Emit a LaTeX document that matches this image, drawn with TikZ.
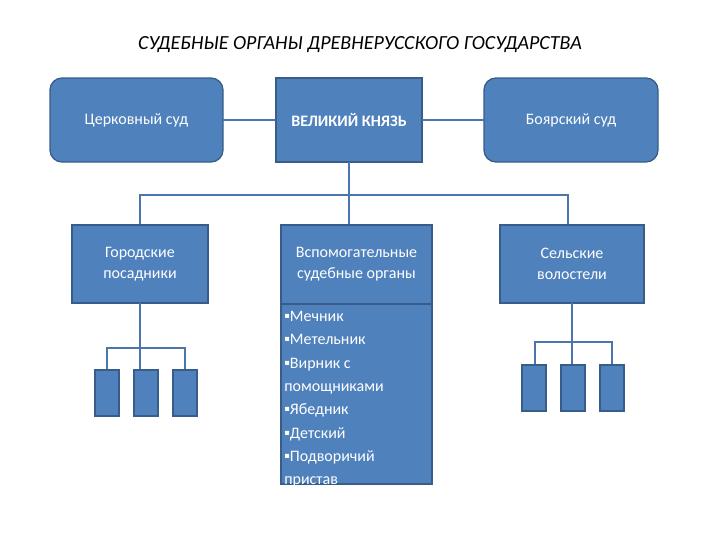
\documentclass[tikz,border=0pt]{standalone}
\usepackage{fontspec}
\setmainfont{Carlito}
\definecolor{bfill}{HTML}{4F81BD}
\definecolor{bdraw}{HTML}{385D8A}
\definecolor{lcol}{HTML}{4A76AD}
\begin{document}
\begin{tikzpicture}[x=0.75pt,y=-0.75pt,
  box/.style={fill=bfill,draw=bdraw,line width=1pt,text=white,align=center,font=\fontsize{12}{14}\selectfont},
  lnk/.style={draw=lcol,line width=0.8pt}]
\useasboundingbox (0,0) rectangle (720,540);
\node[font=\itshape\fontsize{15}{18}\selectfont] (t) at (360,45) {СУДЕБНЫЕ ОРГАНЫ ДРЕВНЕРУССКОГО ГОСУДАРСТВА};
\draw[box,rounded corners=9pt] (50,78) rectangle (223,162);
\node[text=white,font=\fontsize{12}{14}\selectfont] (c) at (136.5,120) {Церковный суд};
\draw[box] (276,78) rectangle (422,162);
\node[text=white,font=\bfseries\fontsize{12}{14}\selectfont] (k) at (349,120) {ВЕЛИКИЙ КНЯЗЬ};
\draw[box,rounded corners=9pt] (484,78) rectangle (658,162);
\node[text=white,font=\fontsize{12}{14}\selectfont] (b) at (571,120) {Боярский суд};
\coordinate (cr) at (223,120); \coordinate (kl) at (276,120);
\coordinate (kr) at (422,120); \coordinate (bl) at (484,120);
\draw[lnk] (cr) -- (kl); \draw[lnk] (kr) -- (bl);
\coordinate (kb) at (349,162);
\draw[lnk] (kb) -- (349,195); \draw[lnk] (140,225) -- (140,195) -- (568,195) -- (568,225);
\draw[lnk] (349,195) -- (349,225);
\draw[box] (72,225) rectangle (208,303);
\node[text=white,align=center,font=\fontsize{12}{16}\selectfont] (g) at (140,264) {Городские\\посадники};
\draw[box] (281,225) rectangle (432,304);
\node[text=white,align=center,font=\fontsize{12}{16}\selectfont] (v) at (356.5,264) {Вспомогательные\\судебные органы};
\draw[box] (281,304) rectangle (432,484);
\node[text=white,align=left,anchor=north west,inner sep=0pt,font=\fontsize{12}{17.5}\selectfont] (list) at (284,311)
 {▪Мечник\\▪Метельник\\▪Вирник с\\помощниками\\▪Ябедник\\▪Детский\\▪Подворичий\\пристав};
\draw[box] (500,225) rectangle (644,303);
\node[text=white,align=center,font=\fontsize{12}{16}\selectfont] (s) at (572,264) {Сельские\\волостели};
% left small
\draw[lnk] (140,303) -- (140,370);
\draw[lnk] (107,370) -- (107,348) -- (185,348) -- (185,370);
\foreach \x in {95,134,173} \draw[box] (\x,370) rectangle (\x+24,416);
% right small
\draw[lnk] (572,303) -- (572,365);
\draw[lnk] (535,365) -- (535,342) -- (612,342) -- (612,365);
\foreach \x in {522,561,600} \draw[box] (\x,365) rectangle (\x+24,411);
\end{tikzpicture}
\end{document}
